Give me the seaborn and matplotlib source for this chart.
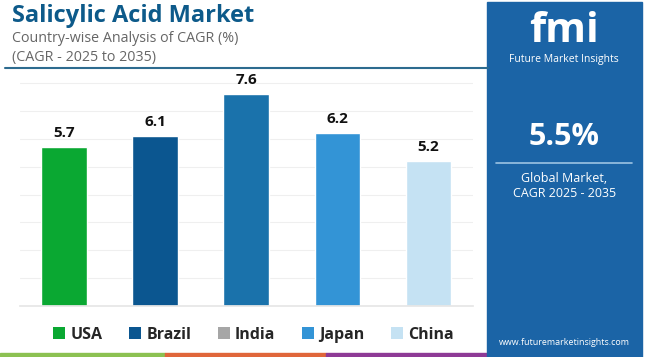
import numpy as np
import pandas as pd
import seaborn as sns
import matplotlib.pyplot as plt
from matplotlib.patches import Patch, Rectangle
from matplotlib.lines import Line2D

# data
countries = ["USA", "Brazil", "India", "Japan", "China"]
cagr = [5.7, 6.1, 7.6, 6.2, 5.2]
bar_colors = ["#0aa832", "#0b5690", "#1a72ab", "#3394d6", "#c5e2f3"]
legend_colors = ["#0aa832", "#0b5690", "#a6a6a6", "#3394d6", "#c5e2f3"]
global_cagr = "5.5%"

sns.set_theme(style="white")
plt.rcParams['font.family'] = ['Open Sans', 'DejaVu Sans']

df = pd.DataFrame({"country": countries, "cagr": cagr})

fig = plt.figure(figsize=(6.5, 3.57), dpi=100)
ax = fig.add_axes([0.031, 0.143, 0.697, 0.655])

sns.barplot(data=df, x="country", y="cagr", hue="country",
            palette=bar_colors, width=0.5, saturation=1, legend=False, ax=ax)

for c in ax.containers:
    ax.bar_label(c, fmt="%.1f", padding=5, fontsize=11, fontweight="bold",
                 color="#111111")

ax.set_ylim(0, 8.4)
ax.set_xlim(-0.48, 4.49)
ax.set_yticks(range(0, 9))
ax.yaxis.grid(True, color="#efefef", linewidth=0.8)
ax.set_axisbelow(True)
ax.set_xticks([])
ax.set_yticklabels([])
ax.tick_params(left=False, bottom=False)
ax.set_xlabel("")
ax.set_ylabel("")
for s in ["top", "left", "right"]:
    ax.spines[s].set_visible(False)
ax.spines["bottom"].set_color("#e6e6e6")

# titles
fig.text(0.018, 0.955, "Salicylic Acid Market", fontsize=17, fontweight="bold",
         color="#0d5a8a", va="center", ha="left")
fig.text(0.018, 0.893, "Country-wise Analysis of CAGR (%)", fontsize=10.3,
         color="#666666", va="center", ha="left")
fig.text(0.018, 0.840, "(CAGR - 2025 to 2035)", fontsize=10.3,
         color="#666666", va="center", ha="left")
fig.add_artist(Line2D([0.008, 0.75], [0.810, 0.810], color="#2d6b8f",
                      linewidth=1.5))

# legend
handles = [Patch(facecolor=col, edgecolor="none", label=lab)
           for lab, col in zip(countries, legend_colors)]
fig.legend(handles=handles, loc="center", bbox_to_anchor=(0.39, 0.062),
           ncol=5, frameon=False, handlelength=0.75, handleheight=0.75,
           handletextpad=0.35, columnspacing=1.65,
           prop={"size": 11.5, "weight": "bold"})

# bottom strip
fig.add_artist(Rectangle((0, 0), 0.254, 0.011, color="#8cc152",
                         transform=fig.transFigure))
fig.add_artist(Rectangle((0.254, 0), 0.248, 0.011, color="#e0663a",
                         transform=fig.transFigure))
fig.add_artist(Rectangle((0.502, 0), 0.25, 0.011, color="#8e3a96",
                         transform=fig.transFigure))

# right panel
fig.add_artist(Rectangle((0.749, 0), 0.239, 0.995, color="#1b64a6",
                         transform=fig.transFigure))
fig.text(0.868, 0.882, "fmi", fontsize=30, fontweight="bold", color="white",
         ha="center", va="baseline")
fig.text(0.868, 0.832, "Future Market Insights", fontsize=7.5, color="white",
         ha="center", va="center")
fig.text(0.868, 0.617, global_cagr, fontsize=22, fontweight="bold",
         color="white", ha="center", va="center")
fig.add_artist(Line2D([0.763, 0.973], [0.543, 0.543], color="#9cc3e3",
                      linewidth=1.2))
fig.text(0.868, 0.500, "Global Market,", fontsize=9, color="white",
         ha="center", va="center")
fig.text(0.868, 0.458, "CAGR 2025 - 2035", fontsize=9, color="white",
         ha="center", va="center")
fig.text(0.868, 0.042, "www.futuremarketinsights.com", fontsize=6.4,
         color="white", ha="center", va="center")

fig.savefig("out.png", dpi=100)
